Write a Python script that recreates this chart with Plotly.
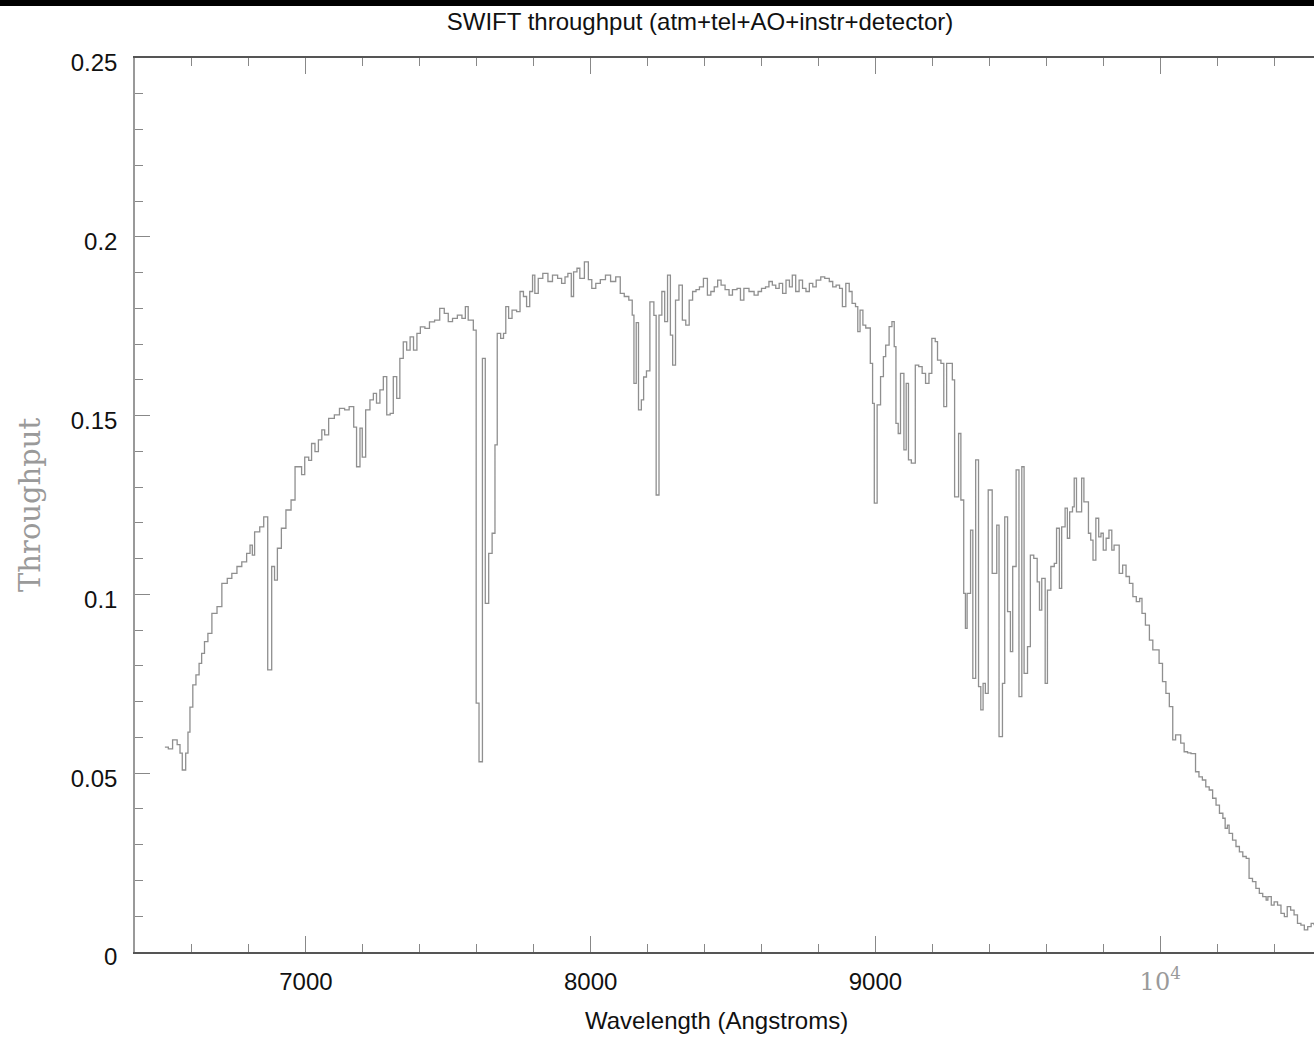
import plotly.graph_objects as go

# ---- data (bin start wavelength [A], throughput) ----
wavelength = [
    6505, 6517, 6532, 6548, 6558, 6566, 6578, 6586, 6593, 6603, 6614, 6625, 6634, 6644, 6656, 6670,
    6688, 6705, 6724, 6740, 6758, 6775, 6792, 6804, 6812, 6820, 6838, 6852, 6866, 6880, 6890, 6900,
    6914, 6930, 6948, 6962, 6985, 6996, 7010, 7020, 7032, 7044, 7056, 7066, 7080, 7100, 7118, 7136,
    7152, 7168, 7178, 7190, 7198, 7210, 7225, 7237, 7248, 7260, 7272, 7284, 7296, 7307, 7319, 7330,
    7342, 7354, 7366, 7378, 7390, 7402, 7418, 7434, 7452, 7470, 7486, 7500, 7515, 7532, 7548, 7560,
    7570, 7588, 7598, 7608, 7620, 7630, 7642, 7654, 7664, 7672, 7684, 7694, 7702, 7712, 7724, 7740,
    7752, 7764, 7775, 7786, 7796, 7804, 7816, 7832, 7850, 7866, 7884, 7898, 7910, 7920, 7932, 7940,
    7952, 7962, 7978, 7992, 8004, 8018, 8034, 8052, 8070, 8088, 8104, 8118, 8134, 8146, 8152, 8160,
    8168, 8178, 8186, 8196, 8208, 8222, 8230, 8240, 8250, 8260, 8270, 8280, 8288, 8298, 8310, 8322,
    8334, 8346, 8358, 8370, 8382, 8396, 8410, 8422, 8434, 8446, 8458, 8472, 8486, 8498, 8514, 8526,
    8538, 8556, 8574, 8588, 8600, 8614, 8626, 8638, 8650, 8662, 8674, 8686, 8698, 8708, 8720, 8732,
    8744, 8756, 8768, 8780, 8792, 8808, 8822, 8838, 8850, 8862, 8874, 8884, 8896, 8908, 8918, 8930,
    8938, 8946, 8956, 8966, 8982, 8990, 8996, 9006, 9018, 9028, 9036, 9048, 9058, 9066, 9072, 9080,
    9088, 9100, 9108, 9116, 9126, 9140, 9152, 9164, 9176, 9188, 9198, 9210, 9218, 9230, 9240, 9250,
    9262, 9270, 9278, 9292, 9300, 9310, 9316, 9322, 9334, 9342, 9352, 9362, 9370, 9378, 9386, 9396,
    9410, 9426, 9434, 9446, 9454, 9464, 9474, 9482, 9494, 9504, 9514, 9522, 9534, 9544, 9556, 9568,
    9576, 9584, 9596, 9604, 9616, 9628, 9636, 9646, 9654, 9666, 9674, 9682, 9692, 9698, 9706, 9724,
    9732, 9748, 9756, 9764, 9774, 9784, 9792, 9800, 9810, 9820, 9830, 9838, 9856, 9868, 9880, 9892,
    9904, 9916, 9928, 9936, 9948, 9962, 9974, 9996, 10008, 10020, 10032, 10044, 10054, 10072, 10084, 10096,
    10108, 10124, 10136, 10148, 10160, 10172, 10184, 10196, 10208, 10220, 10228, 10236, 10242, 10254, 10266, 10278,
    10290, 10302, 10312, 10324, 10336, 10348, 10360, 10372, 10378, 10390, 10400, 10412, 10424, 10436, 10446, 10458,
    10470, 10482, 10494, 10506, 10518, 10530, 10540,
]
throughput = [
    .0573, .0568, .0593, .0580, .0556, .0509, .0556, .0615, .0685, .0747, .0775, .0807, .0835, .0868, .0891, .0947,
    .0966, .1031, .1045, .1059, .1078, .1091, .1115, .1138, .1110, .1175, .1189, .1217, .0789, .1078, .1040, .1129,
    .1185, .1236, .1264, .1357, .1335, .1384, .1375, .1422, .1399, .1432, .1460, .1446, .1492, .1502, .1520, .1516,
    .1525, .1468, .1357, .1465, .1384, .1516, .1544, .1562, .1535, .1572, .1609, .1502, .1506, .1609, .1548, .1660,
    .1706, .1683, .1720, .1683, .1730, .1748, .1744, .1762, .1767, .1800, .1786, .1763, .1772, .1781, .1772, .1805,
    .1767, .1739, .0696, .0532, .1660, .0975, .1115, .1171, .1418, .1730, .1716, .1730, .1805, .1772, .1795, .1791,
    .1847, .1833, .1805, .1847, .1893, .1842, .1884, .1898, .1875, .1893, .1884, .1870, .1888, .1898, .1833, .1902,
    .1912, .1884, .1930, .1880, .1856, .1870, .1880, .1893, .1875, .1888, .1842, .1833, .1823, .1781, .1590, .1760,
    .1516, .1544, .1608, .1625, .1818, .1780, .1278, .1781, .1847, .1763, .1893, .1725, .1641, .1823, .1865, .1767,
    .1753, .1823, .1847, .1852, .1860, .1884, .1837, .1847, .1860, .1879, .1865, .1852, .1837, .1852, .1856, .1823,
    .1856, .1847, .1837, .1847, .1856, .1860, .1875, .1865, .1856, .1870, .1842, .1879, .1860, .1893, .1847, .1879,
    .1856, .1847, .1870, .1860, .1879, .1888, .1884, .1875, .1860, .1865, .1856, .1805, .1870, .1847, .1814, .1805,
    .1735, .1795, .1753, .1745, .1646, .1534, .1255, .1530, .1609, .1665, .1697, .1749, .1763, .1693, .1478, .1450,
    .1618, .1404, .1590, .1376, .1367, .1641, .1637, .1618, .1590, .1618, .1716, .1707, .1655, .1646, .1525, .1646,
    .1646, .1600, .1273, .1450, .1264, .1003, .0905, .1003, .1180, .0765, .1376, .0742, .0677, .0751, .0723, .1292,
    .1059, .1194, .0602, .0751, .1217, .0952, .0840, .1078, .1348, .0714, .1357, .0779, .0854, .1110, .1101, .1035,
    .0956, .1045, .0751, .1012, .1078, .1087, .1185, .1017, .1189, .1241, .1157, .1231, .1245, .1325, .1231, .1325,
    .1259, .1171, .1152, .1096, .1213, .1161, .1171, .1124, .1157, .1180, .1124, .1138, .1059, .1082, .1050, .1031,
    .0994, .0980, .0989, .0947, .0914, .0872, .0845, .0807, .0756, .0723, .0686, .0593, .0607, .0584, .0560, .0557,
    .0555, .0504, .0490, .0481, .0462, .0453, .0430, .0411, .0388, .0374, .0346, .0355, .0332, .0313, .0295, .0280,
    .0267, .0262, .0206, .0197, .0178, .0164, .0155, .0145, .0155, .0131, .0140, .0131, .0108, .0099, .0127, .0117,
    .0104, .0080, .0075, .0062, .0071, .0080, .0075,
]

x_tickvals = [7000, 8000, 9000, 10000]
x_ticktext = ["7000", "8000", "9000",
              "<span style='font-family:DejaVu Serif;color:#9a9a9a'>10<sup>4</sup></span>"]
y_tickvals = [0, 0.05, 0.1, 0.15, 0.2, 0.25]
y_ticktext = ["0", "0.05", "0.1", "0.15", "0.2", "0.25"]

W, H = 1314, 1039
L, R, T, B = 135, 0, 58, 87
PLOT_H = H - T - B  # 894


def paper_y(py):
    """pixel row -> paper y"""
    return (H - B - py) / PLOT_H


def paper_x(px):
    return (px - L) / (W - L - R)


fig = go.Figure()
fig.add_trace(go.Scatter(
    x=wavelength, y=throughput, mode="lines",
    line=dict(shape="hv", color="#8f8f8f", width=1.3),
    hoverinfo="skip", showlegend=False,
))

sans = "Liberation Sans, Arial, Helvetica, sans-serif"

fig.update_layout(
    width=W, height=H,
    margin=dict(l=L, r=R, t=T, b=B, pad=0),
    paper_bgcolor="white", plot_bgcolor="white",
    font=dict(family=sans, size=24, color="#111"),
    title=dict(text="SWIFT throughput (atm+tel+AO+instr+detector)",
               x=700 / W, xanchor="center", xref="container",
               y=1 - 22 / H, yanchor="middle", yref="container",
               font=dict(family=sans, size=24, color="#111")),
    xaxis=dict(
        range=[6400, 10540], showgrid=False, zeroline=False,
        showline=True, linecolor="#555", linewidth=1.5, mirror="ticks",
        ticks="inside", ticklen=16, tickwidth=1, tickcolor="#888",
        tickmode="array", tickvals=x_tickvals, ticktext=x_ticktext,
        tickfont=dict(family=sans, size=24, color="#111"),
        ticklabelstandoff=7,
        minor=dict(tickmode="linear", tick0=6400, dtick=200, ticks="inside",
                   ticklen=8, tickwidth=1, tickcolor="#888", showgrid=False),
    ),
    yaxis=dict(
        range=[0, 0.25], showgrid=False, zeroline=False,
        showline=True, linecolor="#999", linewidth=1.5, mirror=False,
        ticks="inside", ticklen=15, tickwidth=1, tickcolor="#888",
        tickmode="array", tickvals=y_tickvals, ticktext=y_ticktext,
        tickfont=dict(family=sans, size=24, color="#111"),
        ticklabelstandoff=11, ticklabelshift=5,
        minor=dict(tickmode="linear", tick0=0, dtick=0.01, ticks="inside",
                   ticklen=8, tickwidth=1, tickcolor="#888", showgrid=False),
    ),
)

# black band at the very top of the image (pixel rows 0..6)
fig.add_shape(type="rect", xref="paper", yref="paper",
              x0=paper_x(-10), x1=paper_x(W + 10), y0=paper_y(6), y1=paper_y(-10),
              fillcolor="black", line=dict(width=0), layer="above")

# x axis title
fig.add_annotation(text="Wavelength (Angstroms)", xref="paper", yref="paper",
                   x=paper_x(716), y=paper_y(1020),
                   xanchor="center", yanchor="middle", showarrow=False,
                   font=dict(family=sans, size=24, color="#111"))
# y axis title (serif, grey)
fig.add_annotation(text="Throughput", xref="paper", yref="paper",
                   x=paper_x(30), y=paper_y(505),
                   xanchor="center", yanchor="middle", showarrow=False, textangle=-90,
                   font=dict(family="DejaVu Serif, serif", size=29, color="#9a9a9a"))

fig.write_html("out.html")
